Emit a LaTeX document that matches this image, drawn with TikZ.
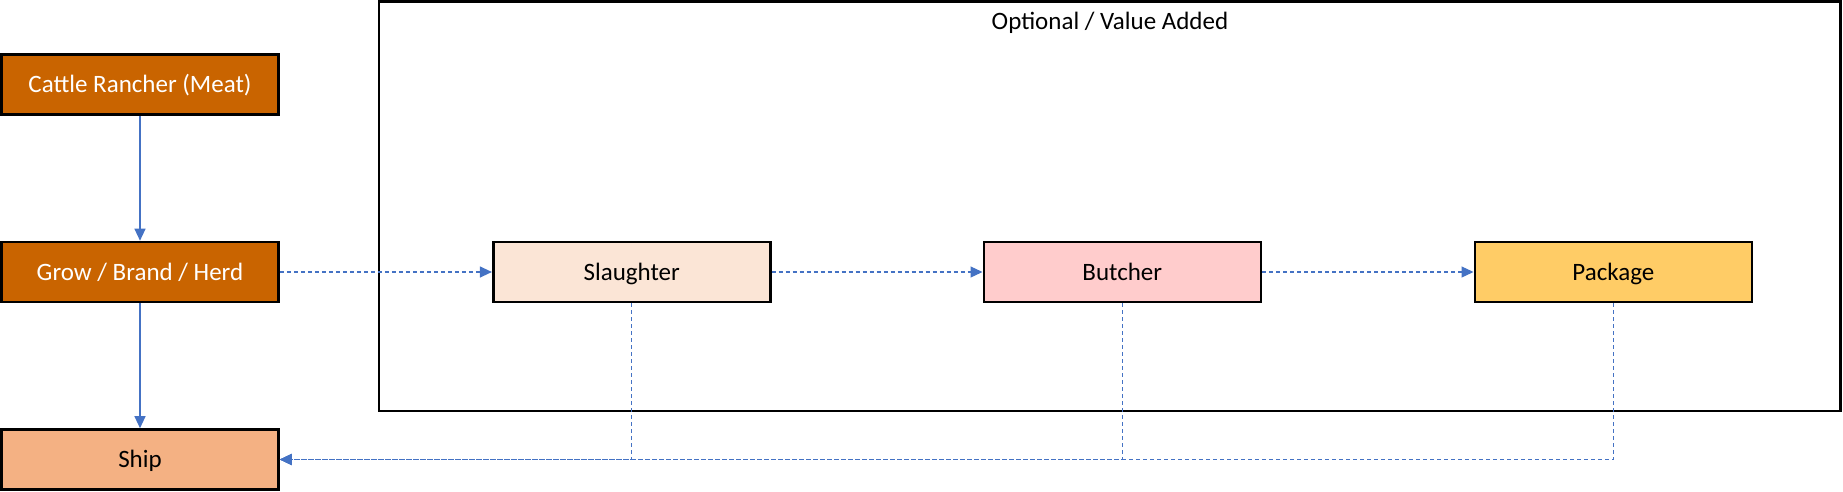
\documentclass[tikz,border=0pt]{standalone}
\usepackage{fontspec}
\setmainfont{Carlito}
\usetikzlibrary{arrows.meta}
\definecolor{rancher}{HTML}{C96400}
\definecolor{shipc}{HTML}{F4B183}
\definecolor{slaughterc}{HTML}{FBE5D6}
\definecolor{butcherc}{HTML}{FFCCCC}
\definecolor{packagec}{HTML}{FFCC66}
\definecolor{conn}{HTML}{4472C4}
\begin{document}
\begin{tikzpicture}[x=1pt,y=-1pt,
  procbox/.style={draw=black,line width=2.6pt,minimum width=277pt,minimum height=60pt,inner sep=0pt,text height=20pt,text depth=4pt,font=\fontsize{25}{29}\selectfont},
  darkbox/.style={procbox,fill=rancher,text=white},
  solidconn/.style={draw=conn,line width=1.2pt,-{Triangle[length=12pt,width=11pt]}},
  dashconn/.style={draw=conn,line width=1.2pt,dash pattern=on 4pt off 3pt,-{Triangle[length=12pt,width=11pt]}}
]
\useasboundingbox (0,0) rectangle (1843,492);
\draw[line width=2.6pt] (379,1.3) rectangle (1840.5,410.8);
\node[font=\fontsize{25}{29}\selectfont] (title) at (1110,23) {Optional / Value Added};
\node[darkbox] (cattle) at (140,84.5) {Cattle Rancher (Meat)};
\node[darkbox] (grow) at (140,272) {Grow / Brand / Herd};
\node[procbox,fill=shipc] (ship) at (140,459.5) {Ship};
\node[procbox,fill=slaughterc] (slaughter) at (631.7,272) {Slaughter};
\node[procbox,fill=butcherc] (butcher) at (1122.3,272) {Butcher};
\node[procbox,fill=packagec] (package) at (1613.3,272) {Package};
\draw[solidconn] (cattle) -- (grow);
\draw[solidconn] (grow) -- (ship);
\draw[dashconn] (grow) -- (slaughter);
\draw[dashconn] (slaughter) -- (butcher);
\draw[dashconn] (butcher) -- (package);
\draw[dashconn] (slaughter.south) |- (ship.east);
\draw[dashconn] (butcher.south) |- (ship.east);
\draw[dashconn] (package.south) |- (ship.east);
\end{tikzpicture}
\end{document}
